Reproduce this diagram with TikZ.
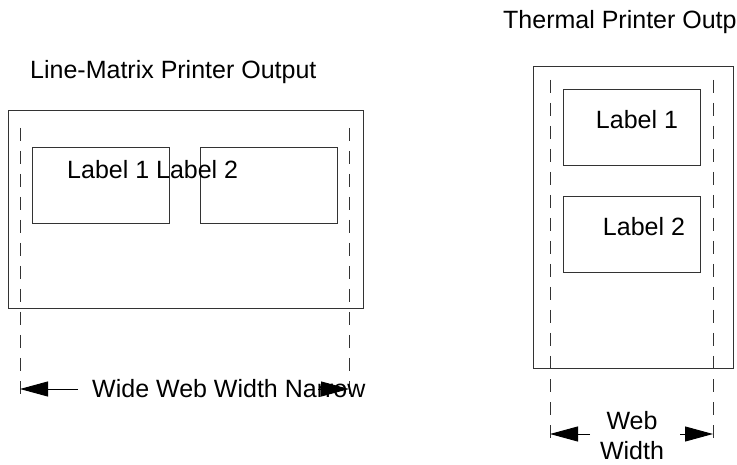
\documentclass[tikz,border=0pt]{standalone}
\usepackage{fontspec}
\setmainfont{Liberation Sans}
\usetikzlibrary{arrows.meta}
\begin{document}
\begin{tikzpicture}[x=1pt,y=-1pt,
  box/.style={draw=black!80,line width=0.9pt},
  guide/.style={draw=black!80,line width=0.9pt,dash pattern=on 13pt off 10pt},
  txt/.style={font=\fontsize{25}{29}\selectfont,inner sep=0pt},
  dim/.style={line width=0.9pt,-{Triangle[length=28pt,width=15pt]}}]
\clip (0,0) rectangle (737,465);
\fill[white] (0,0) rectangle (737,465);
% left
\node[txt,anchor=west] (t1) at (30,72) {Line-Matrix Printer Output};
\draw[box] (8,110) rectangle (363,308);
\draw[box] (32,147) rectangle (169,223);
\draw[box] (200,147) rectangle (337,223);
\node[txt,anchor=west] (l1) at (67,170) {Label 1 Label 2};
\coordinate (gl1) at (20,128); \coordinate (gl2) at (20,395);
\coordinate (gr1) at (349,128); \coordinate (gr2) at (349,395);
\draw[guide] (gl1) -- (gl2);
\draw[guide] (gr1) -- (gr2);
\node[txt,anchor=west] (w) at (92,389) {Wide Web Width Narrow};
\coordinate (a1) at (78,389); \coordinate (a1e) at (20,389);
\coordinate (a2) at (318,389); \coordinate (a2e) at (349,389);
\draw[dim] (a1) -- (a1e);
\draw[dim] (a2) -- (a2e);
% right
\node[txt,anchor=west] (t2) at (503,22) {Thermal Printer Output};
\draw[box] (533,66) rectangle (733,368);
\draw[box] (563,89) rectangle (700,165);
\draw[box] (563,196) rectangle (700,272);
\node[txt] (l3) at (637,120) {Label 1};
\node[txt] (l4) at (644,227) {Label 2};
\coordinate (hl1) at (550,80); \coordinate (hl2) at (550,442);
\coordinate (hr1) at (713,80); \coordinate (hr2) at (713,442);
\draw[guide] (hl1) -- (hl2);
\draw[guide] (hr1) -- (hr2);
\node[txt] (ww) at (632,421) {Web};
\node[txt] (wd) at (632,451) {Width};
\coordinate (b1) at (590,434); \coordinate (b1e) at (550,434);
\coordinate (b2) at (680,434); \coordinate (b2e) at (713,434);
\draw[dim] (b1) -- (b1e);
\draw[dim] (b2) -- (b2e);
\end{tikzpicture}
\end{document}
